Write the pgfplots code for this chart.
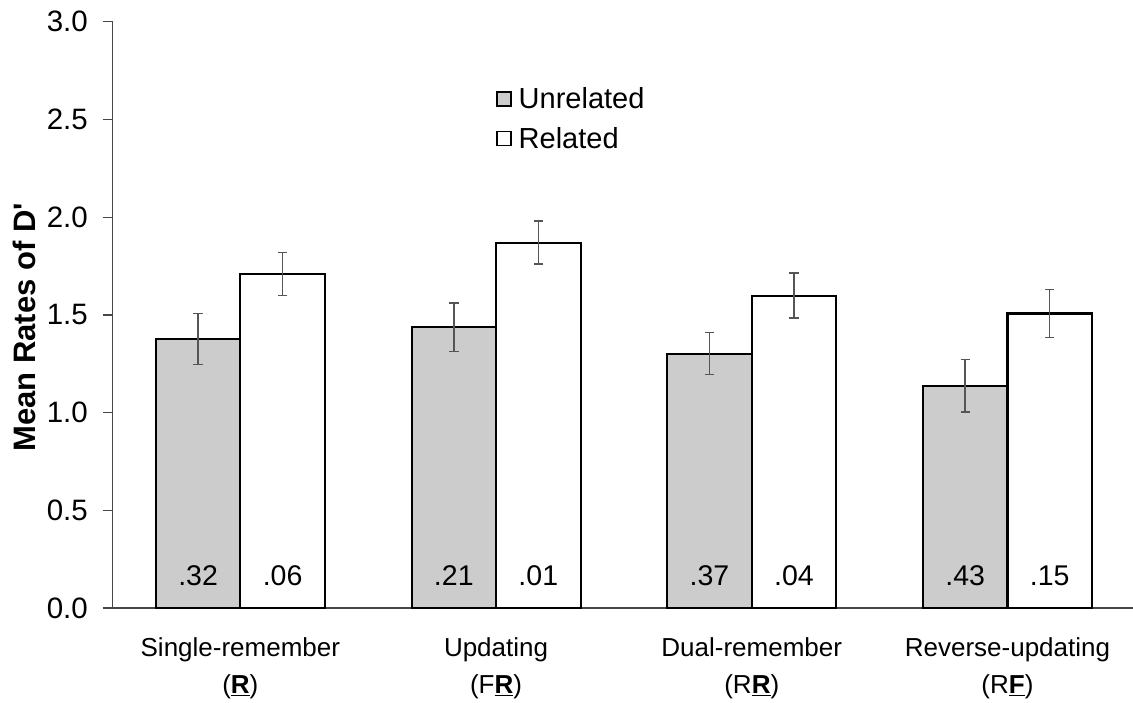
\documentclass[border=0pt]{standalone}
\usepackage{fontspec}
\setmainfont{Liberation Sans}
\usepackage{pgfplots}
\pgfplotsset{compat=1.18}
\definecolor{barg}{RGB}{204,204,204}
\definecolor{errc}{RGB}{85,85,85}
\definecolor{axc}{RGB}{70,70,70}
\begin{document}
\begin{tikzpicture}
\begin{axis}[
  at={(112.5pt,-608pt)}, anchor=south west,
  x=255.7pt, y=195.4pt,
  xmin=-0.5, xmax=3.5, ymin=0, ymax=3,
  axis x line=bottom, axis y line=left,
  axis line style={-, axc, line width=1.3pt},
  ybar=0pt, bar width=84.5pt,
  xtick={0,1,2,3},
  xticklabels={{Single-remember\\(\textbf{\underline{R}})},{Updating\\(F\textbf{\underline{R}})},{Dual-remember\\(R\textbf{\underline{R}})},{Reverse-updating\\(R\textbf{\underline{F}})}},
  major x tick style={draw=none},
  xticklabel style={align=center, font=\fontsize{26}{37}\selectfont, anchor=north, inner sep=0pt, yshift=-20pt},
  ytick={0,0.5,1,1.5,2,2.5,3},
  tick align=outside,
  major tick length=9.5pt,
  major y tick style={axc, line width=1.3pt},
  /pgf/number format/.cd, fixed, fixed zerofill, precision=1, assume math mode=true,
  /pgfplots/.cd,
  yticklabel style={font=\fontsize{29.5}{34}\selectfont, inner sep=0pt, xshift=-15pt},
  ylabel={\textbf{Mean Rates of D\textquotesingle}},
  ylabel style={font=\fontsize{31}{36}\selectfont, at={(axis description cs:-0.0865,0.479)}, anchor=center, inner sep=0pt},
  legend style={draw=none, fill=none, at={(axis description cs:0.3749,0.8877)}, anchor=north west, inner sep=0pt, font=\fontsize{29}{34}\selectfont, row sep=17pt, nodes={inner sep=0pt}, /tikz/every odd column/.append style={column sep=7pt}},
  legend cell align=left,
  clip=false,
]
\addplot[fill=barg, draw=black, line width=2.1pt,
  legend image code/.code={\draw[fill=barg, draw=black, line width=1.6pt] (0pt,-7pt) rectangle (14pt,7pt);},
  error bars/.cd, y dir=both, y explicit,
  error bar style={errc, line width=1.5pt},
  error mark options={errc, line width=1.5pt, mark size=4.7pt, rotate=90}]
coordinates {(0,1.377) +- (0,0.13) (1,1.437) +- (0,0.125) (2,1.302) +- (0,0.107) (3,1.137) +- (0,0.135)};
\addlegendentry{Unrelated}
\addplot[fill=white, draw=black, line width=2.1pt,
  legend image code/.code={\draw[fill=white, draw=black, line width=1.6pt] (0pt,-7pt) rectangle (14pt,7pt);},
  error bars/.cd, y dir=both, y explicit,
  error bar style={errc, line width=1.5pt},
  error mark options={errc, line width=1.5pt, mark size=4.7pt, rotate=90}]
coordinates {(0,1.71) +- (0,0.11) (1,1.87) +- (0,0.11) (2,1.599) +- (0,0.115) (3,1.507) +- (0,0.123)};
\addlegendentry{Related}
\foreach \i/\a/\b in {0/.32/.06, 1/.21/.01, 2/.37/.04, 3/.43/.15}{
  \edef\tmp{\noexpand\node[anchor=base, font=\noexpand\fontsize{28.5}{33}\noexpand\selectfont, xshift=-42.25pt, yshift=23pt] at (axis cs:\i,0) {\a};
  \noexpand\node[anchor=base, font=\noexpand\fontsize{28.5}{33}\noexpand\selectfont, xshift=42.25pt, yshift=23pt] at (axis cs:\i,0) {\b};}
  \tmp
}
\end{axis}
\pgfresetboundingbox
\path[use as bounding box] (0,0) rectangle (1133pt,-703pt);
\end{tikzpicture}
\end{document}
